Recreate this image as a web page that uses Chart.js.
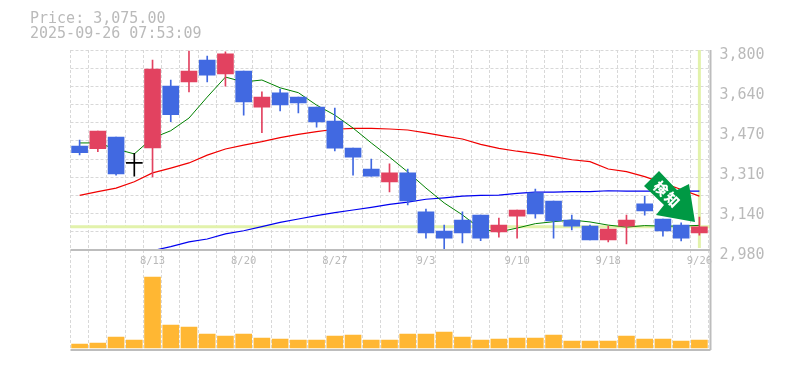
<!DOCTYPE html>
<html>
<head>
<meta charset="utf-8">
<script src="https://cdn.jsdelivr.net/npm/chart.js@4/dist/chart.umd.min.js"></script>
<style>
  html, body { margin: 0; padding: 0; background: #fff; }
  #box { width: 785px; height: 370px; }
</style>
</head>
<body>
<div id="box"><canvas id="chart" width="785" height="370"></canvas></div>
<script>
const dates = ["8/6","8/7","8/8","8/12","8/13","8/14","8/15","8/18","8/19","8/20","8/21","8/22","8/25","8/26","8/27","8/28","8/29","9/1","9/2","9/3","9/4","9/5","9/8","9/9","9/10","9/11","9/12","9/16","9/17","9/18","9/19","9/22","9/24","9/25","9/26"];
const opens = [3406,3395,3443,3335,3399,3652,3669,3759,3702,3714,3566,3624,3607,3566,3509,3398,3312,3259,3296,3136,3058,3103,3123,3054,3119,3214,3181,3103,3078,3021,3078,3169,3107,3082,3050];
const highs = [3431,3468,3443,3376,3759,3677,3796,3775,3792,3714,3628,3640,3607,3566,3562,3398,3353,3333,3312,3148,3082,3136,3123,3111,3144,3230,3181,3123,3082,3078,3123,3201,3107,3091,3115];
const lows = [3370,3383,3287,3283,3280,3506,3628,3669,3652,3533,3461,3550,3542,3484,3386,3287,3283,3218,3165,3029,2977,3009,3018,3033,3029,3111,3029,3062,3021,3013,3005,3123,3037,3017,3041];
const closes = [3379,3468,3292,3335,3722,3535,3714,3697,3784,3587,3607,3575,3583,3505,3398,3361,3283,3296,3181,3050,3029,3050,3029,3082,3144,3128,3099,3078,3021,3066,3103,3140,3058,3029,3075];
const volumes = [4,5,11,8,71,23,21,14,12,14,10,9,8,8,12,13,8,8,14,14,16,11,8,9,10,10,13,7,7,7,12,9,9,7,8];
const maShort = [3419,3419,3394,3374,3439,3469,3521,3607,3689,3669,3677,3645,3625,3574,3533,3480,3419,3361,3300,3234,3173,3124,3066,3054,3070,3088,3096,3103,3095,3082,3074,3080,3078,3078,3081];
const maMid = [3204,3219,3234,3260,3296,3316,3337,3369,3394,3410,3424,3441,3454,3465,3475,3479,3479,3476,3472,3460,3447,3435,3413,3397,3385,3375,3363,3350,3342,3312,3301,3281,3255,3228,3201];
const maLong = [null,null,null,null,2977,2994,3013,3025,3046,3059,3076,3093,3107,3121,3133,3144,3155,3167,3176,3188,3194,3201,3204,3205,3212,3217,3217,3219,3219,3223,3221,3221,3221,3221,3221];
const priceLabels = [3800,3636,3472,3308,3144,2980];
const gridStep = 820 / 11;
const lastPrice = 3075;

const RED = "#e24260";
const BLUE = "#4169e1";
const GRID = "#d8d8d8";
const AXIS = "#bdbdbd";
const TEXT = "#bababa";
const PALE = "#e2f2ab";
const FONT = "'DejaVu Sans Mono', monospace";

function candleColor(i) {
  if (opens[i] === closes[i]) return "#000";
  return closes[i] > opens[i] ? RED : BLUE;
}
const candleColors = dates.map(function (d, i) { return candleColor(i); });

// pale cross on the last price, under the marks
const crossPlugin = {
  id: "cross",
  beforeDatasetsDraw: function (chart) {
    const ctx = chart.ctx;
    const a = chart.chartArea;
    const py = chart.scales.y;
    const x = chart.scales.x.getPixelForValue(dates.length - 1);
    const y = py.getPixelForValue(lastPrice);
    ctx.save();
    ctx.strokeStyle = PALE;
    ctx.lineWidth = 3;
    ctx.beginPath();
    ctx.moveTo(a.left, y);
    ctx.lineTo(a.right + 2, y);
    ctx.moveTo(x, py.top);
    ctx.lineTo(x, py.bottom - 2);
    ctx.stroke();
    ctx.restore();
  },
};

// price text and the green arrow go on top of everything
const overlayPlugin = {
  id: "overlay",
  afterDraw: function (chart) {
    const ctx = chart.ctx;
    const a = chart.chartArea;
    ctx.save();
    // panel frame
    ctx.strokeStyle = AXIS;
    ctx.lineWidth = 2;
    ctx.beginPath();
    ctx.moveTo(a.left, chart.scales.y.bottom);
    ctx.lineTo(a.right + 2, chart.scales.y.bottom);
    ctx.moveTo(a.left, a.bottom);
    ctx.lineTo(a.right + 2, a.bottom);
    ctx.moveTo(a.right + 2, a.top);
    ctx.lineTo(a.right + 2, a.bottom);
    ctx.stroke();

    ctx.fillStyle = TEXT;
    ctx.font = "15px " + FONT;
    ctx.textBaseline = "middle";
    ctx.textAlign = "left";
    ctx.fillText("Price: 3,075.00", 30, 19);
    ctx.fillText("2025-09-26 07:53:09", 30, 34);

    ctx.fillStyle = "#009944";
    ctx.beginPath();
    ctx.moveTo(659, 171);
    ctx.lineTo(677, 190);
    ctx.lineTo(689, 184);
    ctx.lineTo(695, 222);
    ctx.lineTo(656, 215);
    ctx.lineTo(664, 205);
    ctx.lineTo(644, 186);
    ctx.closePath();
    ctx.fill();

    ctx.fillStyle = "#fff";
    ctx.font = "900 14px 'Noto Sans CJK JP'";
    ctx.textAlign = "center";
    ctx.translate(666.5, 194);
    ctx.rotate(Math.PI / 4);
    ctx.fillText("検", -8, 0);
    ctx.fillText("知", 8, 0);
    ctx.restore();
  },
};

new Chart(document.getElementById("chart"), {
  data: {
    labels: dates,
    datasets: [
      { type: "bar", yAxisID: "v", data: volumes, backgroundColor: "#ffb733", barThickness: 16, grouped: false, order: 5 },
      { type: "line", yAxisID: "y", data: maLong, borderColor: "#0000f0", borderWidth: 1.2, pointRadius: 0, tension: 0, order: 4 },
      { type: "line", yAxisID: "y", data: maMid, borderColor: "#f00000", borderWidth: 1.2, pointRadius: 0, tension: 0, order: 3 },
      { type: "line", yAxisID: "y", data: maShort, borderColor: "#008000", borderWidth: 1, pointRadius: 0, tension: 0, order: 2 },
      { type: "bar", yAxisID: "y", data: dates.map(function (d, i) { return [lows[i], highs[i]]; }), backgroundColor: candleColors, barThickness: 1, grouped: false, order: 1 },
      { type: "bar", yAxisID: "y", data: dates.map(function (d, i) { return [opens[i], closes[i]]; }), backgroundColor: candleColors, barThickness: 16, minBarLength: 1, grouped: false, order: 0 },
    ],
  },
  options: {
    responsive: false,
    animation: false,
    layout: { padding: { left: 70.5, top: 50, right: 0, bottom: 20 } },
    plugins: { legend: { display: false }, tooltip: { enabled: false } },
    scales: {
      x: {
        type: "category",
        position: { y: 2980 },
        offset: true,
        border: { display: false, dash: [3, 2] },
        grid: { color: GRID, lineWidth: 1, tickLength: 0, offset: true },
        ticks: {
          autoSkip: false,
          maxRotation: 0,
          padding: 5,
          color: TEXT,
          font: { family: FONT, size: 10.5 },
          callback: function (v, i) { return (i + 1) % 5 === 0 ? dates[i] : ""; },
        },
      },
      y: {
        position: "right",
        stack: "panels",
        stackWeight: 2,
        min: 2980,
        max: 3800,
        border: { display: false, dash: [3, 2] },
        afterBuildTicks: function (axis) {
          const ticks = [];
          for (let k = 0; k <= 11; k++) ticks.push({ value: 3800 - k * gridStep });
          priceLabels.slice(1, -1).forEach(function (v) { ticks.push({ value: v }); });
          axis.ticks = ticks;
        },
        afterFit: function (axis) { axis.width = 76.5; },
        grid: {
          tickLength: 0,
          color: function (c) {
            return priceLabels.slice(1, -1).indexOf(c.tick.value) >= 0 ? "transparent" : GRID;
          },
        },
        ticks: {
          autoSkip: false,
          padding: 11,
          labelOffset: 5,
          color: TEXT,
          font: { family: FONT, size: 15 },
          callback: function (v) {
            return priceLabels.indexOf(v) >= 0 ? (Math.round(v / 10) * 10).toLocaleString("en-US") : "";
          },
        },
      },
      v: {
        position: "right",
        stack: "panels",
        stackWeight: 1,
        min: -2,
        max: 98,
        border: { display: false },
        grid: { display: false },
        ticks: { display: false },
        afterFit: function (axis) { axis.width = 76.5; },
      },
    },
  },
  plugins: [crossPlugin, overlayPlugin],
});
</script>
</body>
</html>
